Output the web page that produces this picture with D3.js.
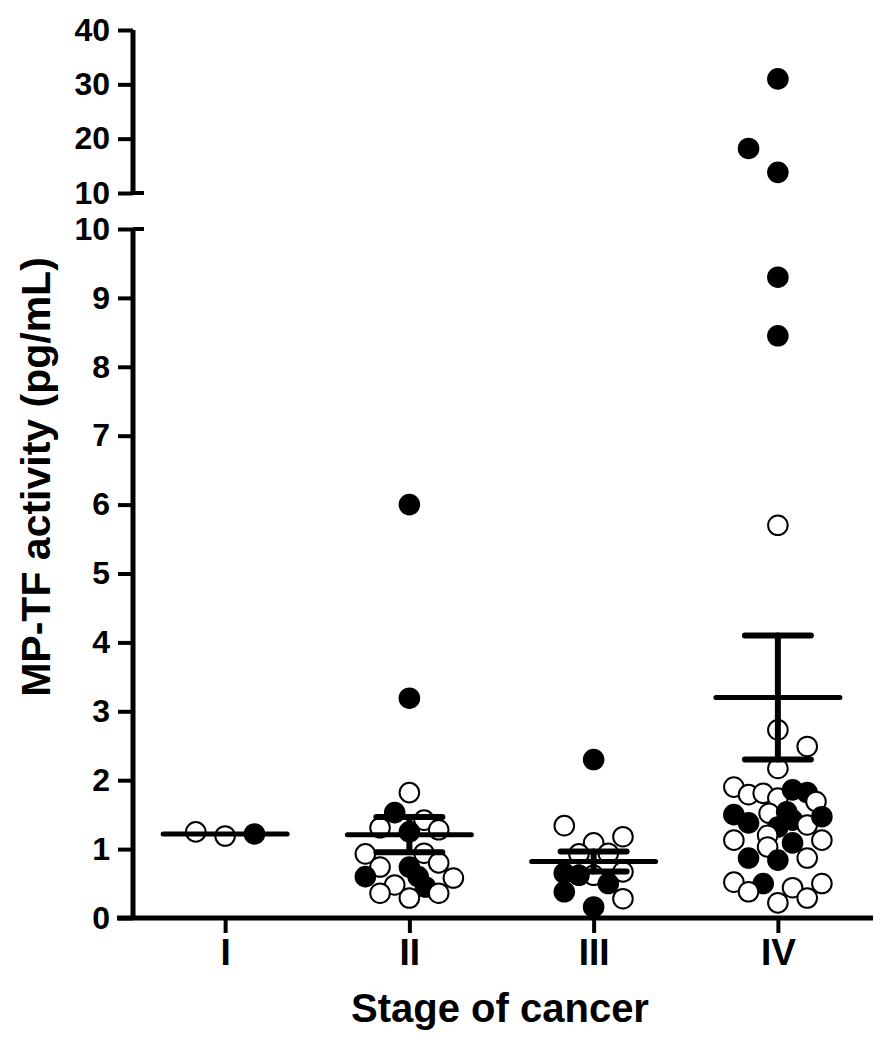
<!DOCTYPE html>
<html><head><meta charset="utf-8">
<script src="https://cdnjs.cloudflare.com/ajax/libs/d3/7.8.5/d3.min.js"></script>
<style>
html,body{margin:0;padding:0;background:#fff;}
text{font-family:"Liberation Sans",Arial,sans-serif;font-weight:bold;fill:#000;}
</style></head>
<body>
<svg id="chart" width="896" height="1050"></svg>
<script>
// ---- data ----
const categories = ["I", "II", "III", "IV"];
const lowTicks = [0,1,2,3,4,5,6,7,8,9,10];
const highTicks = [10,20,30,40];
const xLabel = "Stage of cancer";
const yLabel = "MP-TF activity (pg/mL)";
// each point: [value, jitter column, filled (1) / open (0)]
const stageI = [[1.25,-2,0],[1.19,0,0],[1.22,2,1]];
const stageII = [[6.0,0,1],[3.19,0,1],[1.82,0,0],[1.53,-1,1],[1.31,-2,0],[1.42,1,0],[1.28,2,0],
  [1.25,0,1],[0.93,-3,0],[0.94,1,0],[0.74,-2,0],[0.80,2,0],[0.60,-3,1],[0.74,0,1],[0.60,0.6,1],
  [0.58,3,0],[0.48,-1,0],[0.45,1.1,1],[0.36,-2,0],[0.29,0,0],[0.36,2,0]];
const stageIII = [[2.30,0,1],[1.34,-2,0],[1.09,0,0],[1.18,2,0],[0.94,1,0],[0.93,-1,0],[0.62,0,0],
  [0.67,2,0],[0.65,-2,1],[0.62,-1,1],[0.50,1,1],[0.38,-2,1],[0.16,0,1],[0.28,2,0]];
const stageIV = [[31,0,1],[18.2,-2,1],[13.8,0,1],[9.3,0,1],[8.45,0,1],[5.7,0,0],[2.73,0,0],[2.49,2,0],[2.17,0,0],
  [1.90,-3,0],[1.79,-2,0],[1.81,-1,0],[1.74,0,0],[1.86,1,1],[1.82,2,1],[1.69,2.6,0],
  [1.50,-3,1],[1.38,-2,1],[1.52,-0.6,0],[1.54,0.6,1],[1.42,1,1],[1.32,0,1],[1.35,2,0],[1.47,3,1],
  [1.13,-3,0],[1.20,-0.7,0],[1.03,-0.7,0],[1.09,1,1],[1.13,3,0],
  [0.87,-2,1],[0.84,0,1],[0.87,2,0],[0.52,-3,0],[0.50,-1,1],[0.38,-2,0],[0.22,0,0],[0.44,1,0],[0.29,2,0],[0.50,3,0]];
const stagePoints = [stageI, stageII, stageIII, stageIV];
const means = [1.22, 1.21, 0.82, 3.20];
const sems = [0.0, 0.255, 0.145, 0.90];

// ---- layout ----
const svg = d3.select("#chart");
const axisX = 133, axisRight = 873, baseY = 918;
const x = d3.scalePoint().domain(categories).range([axisX, 870]).padding(0.5);
const jitter = d3.scaleLinear().domain([-3, 3]).range([-44, 44]);
const yLow = d3.scaleLinear().domain([0, 10]).range([baseY, 229]);
const yHigh = d3.scaleLinear().domain([10, 40]).range([193, 30]);
const yPos = v => v > 10 ? yHigh(v) : yLow(v);

// ---- y axis (broken) ----
function styleAxis(g, fs){
  g.select(".domain").remove();
  g.selectAll(".tick line").attr("stroke","#000").attr("stroke-width",4);
  g.selectAll(".tick text").style("font-size", fs+"px").attr("fill","#000");
}
const gLow = svg.append("g").attr("transform",`translate(${axisX},0)`)
  .call(d3.axisLeft(yLow).tickValues(lowTicks).tickSize(15).tickPadding(8).tickFormat(d3.format("d")));
styleAxis(gLow, 32);
const gHigh = svg.append("g").attr("transform",`translate(${axisX},0)`)
  .call(d3.axisLeft(yHigh).tickValues(highTicks).tickSize(15).tickPadding(8).tickFormat(d3.format("d")));
styleAxis(gHigh, 32);
// axis segments
svg.append("line").attr("x1",axisX).attr("x2",axisX).attr("y1",yLow(0)+2).attr("y2",yLow(10))
  .attr("stroke","#000").attr("stroke-width",5);
svg.append("line").attr("x1",axisX).attr("x2",axisX).attr("y1",yHigh(10)).attr("y2",yHigh(40))
  .attr("stroke","#000").attr("stroke-width",5);
// break marks
[yLow(10), yHigh(10)].forEach(yy=>{
  svg.append("line").attr("x1",axisX).attr("x2",axisX+11).attr("y1",yy).attr("y2",yy)
    .attr("stroke","#000").attr("stroke-width",4);
});

// ---- x axis ----
const gx = svg.append("g").attr("transform",`translate(0,${baseY})`)
  .call(d3.axisBottom(x).tickSize(15).tickPadding(6));
styleAxis(gx, 37);
svg.append("line").attr("x1",117).attr("x2",axisRight).attr("y1",baseY).attr("y2",baseY)
  .attr("stroke","#000").attr("stroke-width",5);

// ---- points ----
categories.forEach((c,i)=>{
  const g = svg.append("g");
  g.selectAll("circle").data(stagePoints[i]).join("circle")
    .attr("cx", d => x(c) + jitter(d[1]))
    .attr("cy", d => yPos(d[0]))
    .attr("r", 9.8)
    .attr("fill", d => d[2] ? "#000" : "#fff")
    .attr("stroke", "#000")
    .attr("stroke-width", 2);
});

// ---- mean and SEM ----
categories.forEach((c,i)=>{
  const cx = x(c), m = means[i], s = sems[i];
  const g = svg.append("g").attr("stroke","#000").attr("stroke-linecap","round");
  if (s > 0) {
    g.append("line").attr("x1",cx).attr("x2",cx).attr("y1",yLow(m-s)).attr("y2",yLow(m+s)).attr("stroke-width",6);
    [m-s, m+s].forEach(v=>{
      g.append("line").attr("x1",cx-33).attr("x2",cx+33).attr("y1",yLow(v)).attr("y2",yLow(v)).attr("stroke-width",6);
    });
  }
  g.append("line").attr("x1",cx-62).attr("x2",cx+62).attr("y1",yLow(m)).attr("y2",yLow(m)).attr("stroke-width",5);
});

// ---- titles ----
svg.append("text").attr("x",500).attr("y",1022).attr("text-anchor","middle")
  .style("font-size","40px").text(xLabel);
svg.append("text").attr("transform","translate(50,477) rotate(-90)").attr("text-anchor","middle")
  .style("font-size","41px").text(yLabel);
</script>
</body></html>
